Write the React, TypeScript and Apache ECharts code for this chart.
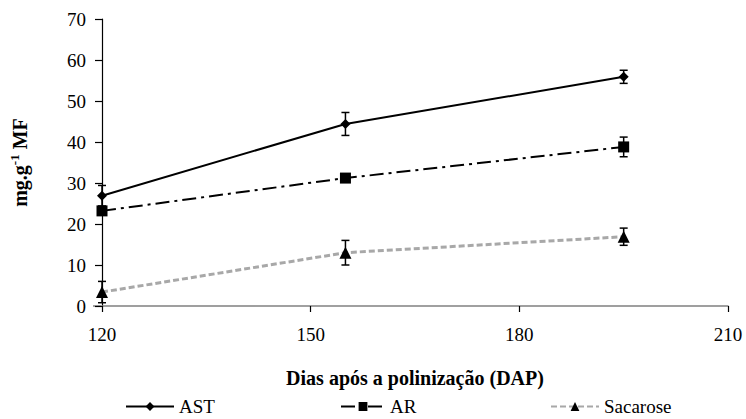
import React, { useEffect, useRef } from "react";
import * as echarts from "echarts";

const days = [120, 155, 195];
const ast = [26.9, 44.4, 55.9];
const astErr = [2.5, 2.8, 1.6];
const ar = [23.2, 31.2, 38.8];
const arErr = [0.9, 1.0, 2.4];
const sac = [3.4, 13.0, 16.9];
const sacErr = [2.6, 3.0, 2.1];
const xTicks = [120, 150, 180, 210];

const FONT = "Liberation Serif";

function errData(vals: number[], errs: number[]) {
  return days.map((d, i) => [d, vals[i] - errs[i], vals[i] + errs[i]]);
}

function errSeries(vals: number[], errs: number[]) {
  return {
    type: "custom",
    silent: true,
    z: 5,
    data: errData(vals, errs),
    renderItem: (params: any, api: any) => {
      const x = api.value(0);
      const lo = api.coord([x, api.value(1)]);
      const hi = api.coord([x, api.value(2)]);
      const w = 4;
      const style = { stroke: "#000", lineWidth: 1.5 };
      return {
        type: "group",
        children: [
          { type: "line", shape: { x1: lo[0], y1: lo[1], x2: hi[0], y2: hi[1] }, style },
          { type: "line", shape: { x1: lo[0] - w, y1: lo[1], x2: lo[0] + w, y2: lo[1] }, style },
          { type: "line", shape: { x1: hi[0] - w, y1: hi[1], x2: hi[0] + w, y2: hi[1] }, style },
        ],
      };
    },
  };
}

function pairs(vals: number[]) {
  return days.map((d, i) => [d, vals[i]]);
}

export default function App() {
  const ref = useRef<HTMLDivElement>(null);
  useEffect(() => {
    if (!ref.current) return;
    const chart = echarts.init(ref.current, undefined, { renderer: "svg" });
    const legendBase = {
      top: 395,
      itemWidth: 48,
      itemHeight: 11,
      itemGap: 8,
      padding: 2,
      textStyle: { fontFamily: FONT, fontSize: 19, color: "#000" },
      selectedMode: false,
    };
    chart.setOption({
      animation: false,
      backgroundColor: "#ffffff",
      grid: { left: 101, right: 18, top: 19, bottom: 113 },
      graphic: [
        {
          type: "line",
          shape: { x1: 93, y1: 306, x2: 101, y2: 306 },
          style: { stroke: "#808080", lineWidth: 1.5 },
        },
      ],
      xAxis: {
        type: "value",
        min: 120,
        max: 210,
        interval: 30,
        name: "Dias após a polinização (DAP)",
        nameLocation: "middle",
        nameGap: 62,
        nameTextStyle: { fontFamily: FONT, fontSize: 20, fontWeight: "bold", color: "#000" },
        axisLine: { lineStyle: { color: "#808080", width: 1.5 } },
        axisTick: { show: true, length: 6, lineStyle: { color: "#000", width: 1.2 } },
        axisLabel: {
          fontFamily: FONT,
          fontSize: 19,
          color: "#000",
          margin: 19,
          customValues: xTicks,
        },
        splitLine: { show: false },
      },
      yAxis: {
        type: "value",
        min: 0,
        max: 70,
        interval: 10,
        name: "{a|mg.g}{s|-1}{a| MF}",
        nameLocation: "middle",
        nameGap: 70,
        nameRotate: 90,
        nameTextStyle: {
          fontFamily: FONT,
          fontWeight: "bold",
          color: "#000",
          rich: {
            a: { fontFamily: FONT, fontSize: 20, fontWeight: "bold", color: "#000", lineHeight: 24 },
            s: { fontFamily: FONT, fontSize: 13, fontWeight: "bold", color: "#000", lineHeight: 24, verticalAlign: "top" },
          },
        },
        axisLine: { show: true, lineStyle: { color: "#000", width: 1.2 } },
        axisTick: { show: true, length: 7, lineStyle: { color: "#000", width: 1.2 } },
        axisLabel: { fontFamily: FONT, fontSize: 19, color: "#000", margin: 16 },
        splitLine: { show: false },
      },
      legend: [
        { ...legendBase, left: 123, data: ["AST"] },
        { ...legendBase, left: 338, itemWidth: 44, data: ["AR"] },
        { ...legendBase, left: 548, data: ["Sacarose"] },
      ],
      series: [
        {
          name: "AST",
          type: "line",
          data: pairs(ast),
          symbol: "diamond",
          symbolSize: 10,
          itemStyle: { color: "#000" },
          lineStyle: { color: "#000", width: 2 },
          z: 4,
        },
        {
          name: "AR",
          type: "line",
          data: pairs(ar),
          symbol: "rect",
          symbolSize: 11,
          itemStyle: { color: "#000" },
          lineStyle: { color: "#000", width: 2, type: [14, 5, 3, 5] },
          z: 4,
        },
        {
          name: "Sacarose",
          type: "line",
          data: pairs(sac),
          symbol: "triangle",
          symbolSize: 12,
          itemStyle: { color: "#000" },
          lineStyle: { color: "#a8a8a8", width: 3, type: [6, 3] },
          z: 4,
        },
        errSeries(ast, astErr),
        errSeries(ar, arErr),
        errSeries(sac, sacErr),
      ],
    });
    return () => chart.dispose();
  }, []);
  return (
    <div
      ref={ref}
      style={{ position: "absolute", left: 0, top: 0, width: 746, height: 419 }}
    />
  );
}
